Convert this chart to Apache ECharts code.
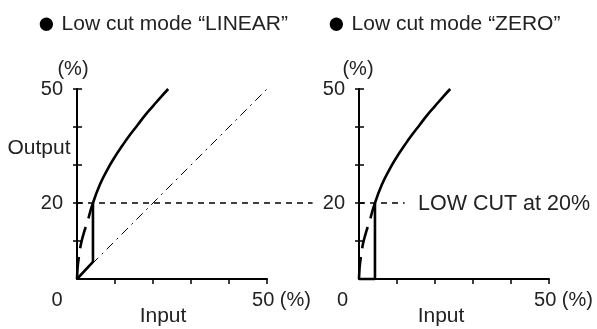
<!DOCTYPE html>
<html>
<head>
<meta charset="utf-8">
<script src="https://cdn.jsdelivr.net/npm/echarts@6/dist/echarts.min.js"></script>
<style>
  body { margin: 0; background: #fff; }
  #chart { width: 597px; height: 329px; }
</style>
</head>
<body>
<div id="chart"></div>
<script>
// ticks / labels
var axisMin = 0, axisMax = 50, tickStep = 10;
var tickValues = [10, 20, 30, 40, 50];
var yLabelValues = [20, 50];
var xLabelValues = [0, 50];
var cutLevel = 20;

// characteristic: square-root part above the cut (solid)
var curveHigh = [[4.2, 20], [6, 24.8], [8, 28.8], [10, 32.2], [12, 35.2], [14, 38], [16, 40.6], [18, 43.2], [20, 45.5], [22, 47.8], [24, 50]];
// square-root part below the cut (dashed, not used)
var curveLow = [[0, 0], [0.2, 3.5], [0.6, 6.5], [1.1, 9.5], [2, 12.8], [2.8, 15.2], [3.5, 17.8], [4.2, 20]];
// output below cut in each mode
var linearCut = [[0, 0], [4.2, 4.5], [4.2, 20]];
var zeroCut = [[0, 0], [4.2, 0], [4.2, 20]];
// straight reference line (dash-dot)
var refLine = [[0, 0], [50, 50]];
// low cut level line; the left one runs on past the left chart
var cutLineEnd = 62;
var cutLineLeft = [[0, cutLevel], [cutLineEnd, cutLevel]];
var cutLineRight = [[0, cutLevel], [12, cutLevel]];

var FONT = '"Liberation Sans", Arial, sans-serif';
var TXT = '#222';

function xAxisFor(grid, inside, zeroPad) {
  var ax = {
    type: 'value', gridIndex: grid, min: axisMin, max: axisMax, interval: tickStep,
    axisLine: { show: !inside, lineStyle: { color: '#000', width: 2 } },
    splitLine: { show: false },
    axisTick: { inside: inside, length: inside ? 5 : 4, customValues: tickValues, lineStyle: { color: '#000', width: 1.5 } },
    axisLabel: { show: false }
  };
  if (!inside) {
    ax.axisLabel = {
      show: true, customValues: xLabelValues, margin: 11,
      formatter: function (v) { return v === 0 ? '{z|0}' : '{f|50 (%)}'; },
      rich: {
        z: { fontSize: 20, fontFamily: FONT, color: TXT, padding: [0, zeroPad, 0, 0] },
        f: { fontSize: 20, fontFamily: FONT, color: TXT, padding: [0, 0, 0, 29] }
      }
    };
  }
  return ax;
}

function yAxisFor(grid, inside, namePad) {
  var ax = {
    type: 'value', gridIndex: grid, min: axisMin, max: axisMax, interval: tickStep, position: 'left',
    axisLine: { show: !inside, lineStyle: { color: '#000', width: 2 } },
    splitLine: { show: false },
    axisTick: { inside: inside, length: inside ? 5 : 4, customValues: tickValues, lineStyle: { color: '#000', width: 1.5 } },
    axisLabel: { show: false }
  };
  if (!inside) {
    ax.axisLabel = { show: true, customValues: yLabelValues, margin: 14, fontSize: 20, fontFamily: FONT, color: TXT };
    ax.name = '(%)';
    ax.nameLocation = 'end';
    ax.nameGap = 10;
    ax.nameTextStyle = { fontSize: 20, fontFamily: FONT, color: TXT, padding: [0, namePad, 0, 0] };
  }
  return ax;
}

function lineSeries(idx, data, style, smooth) {
  return {
    type: 'line', xAxisIndex: idx, yAxisIndex: idx, data: data,
    symbol: 'none', clip: false, smooth: smooth || false,
    lineStyle: style, silent: true
  };
}

function header(text, left) {
  return {
    text: '{b|\u25CF}{t| ' + text + '}', left: left, top: 4,
    textStyle: {
      fontWeight: 'normal',
      rich: {
        b: { fontSize: 31, lineHeight: 30, fontWeight: 'normal', fontFamily: FONT, color: '#000' },
        t: { fontSize: 21, lineHeight: 30, fontWeight: 'normal', fontFamily: FONT, color: TXT }
      }
    }
  };
}

var solid = { color: '#000', width: 2.6 };
var dashedCurve = { color: '#000', width: 2.6, type: [22, 9] };
var dashDot = { color: '#000', width: 1, type: [9, 5, 2, 5] };
var cutDash = { color: '#000', width: 1.4, type: [6, 5] };

var chart = echarts.init(document.getElementById('chart'), null, { renderer: 'canvas' });

var option = {
  animation: false,
  backgroundColor: '#fff',
  textStyle: { fontFamily: FONT },
  title: [
    header('Low cut mode \u201CLINEAR\u201D', 32),
    header('Low cut mode \u201CZERO\u201D', 322)
  ],
  grid: [
    { left: 77, top: 89, width: 190, height: 190, outerBoundsMode: 'none' },
    { left: 359, top: 89, width: 190, height: 190, outerBoundsMode: 'none' },
    // hidden grid on the same scale as the left chart, wide enough for the cut line
    { left: 77, top: 89, width: 190 * cutLineEnd / axisMax, height: 190, outerBoundsMode: 'none' }
  ],
  xAxis: [xAxisFor(0, false, 40), xAxisFor(0, true), xAxisFor(1, false, 33), xAxisFor(1, true),
    { type: 'value', gridIndex: 2, min: axisMin, max: cutLineEnd, show: false }],
  yAxis: [yAxisFor(0, false, 8), yAxisFor(0, true), yAxisFor(1, false, 2), yAxisFor(1, true),
    { type: 'value', gridIndex: 2, min: axisMin, max: axisMax, show: false }],
  series: [
    // LINEAR
    lineSeries(0, refLine, dashDot),
    lineSeries(4, cutLineLeft, cutDash),
    lineSeries(0, curveLow, dashedCurve, 0.3),
    lineSeries(0, linearCut, solid),
    lineSeries(0, curveHigh, solid, 0.5),
    // ZERO
    lineSeries(2, cutLineRight, cutDash),
    lineSeries(2, curveLow, dashedCurve, 0.3),
    lineSeries(2, zeroCut, solid),
    lineSeries(2, curveHigh, solid, 0.5)
  ],
  graphic: [
    { type: 'text', x: 39, y: 148, style: { text: 'Output', fontSize: 21, fontFamily: FONT, fill: TXT, align: 'center', verticalAlign: 'middle' } },
    { type: 'text', x: 163, y: 316, style: { text: 'Input', fontSize: 21, fontFamily: FONT, fill: TXT, align: 'center', verticalAlign: 'middle' } },
    { type: 'text', x: 441, y: 316, style: { text: 'Input', fontSize: 21, fontFamily: FONT, fill: TXT, align: 'center', verticalAlign: 'middle' } },
    { type: 'text', x: 418, y: 204, style: { text: 'LOW CUT at 20%', fontSize: 21.5, fontFamily: FONT, fill: TXT, align: 'left', verticalAlign: 'middle' } }
  ]
};

chart.setOption(option);
</script>
</body>
</html>
